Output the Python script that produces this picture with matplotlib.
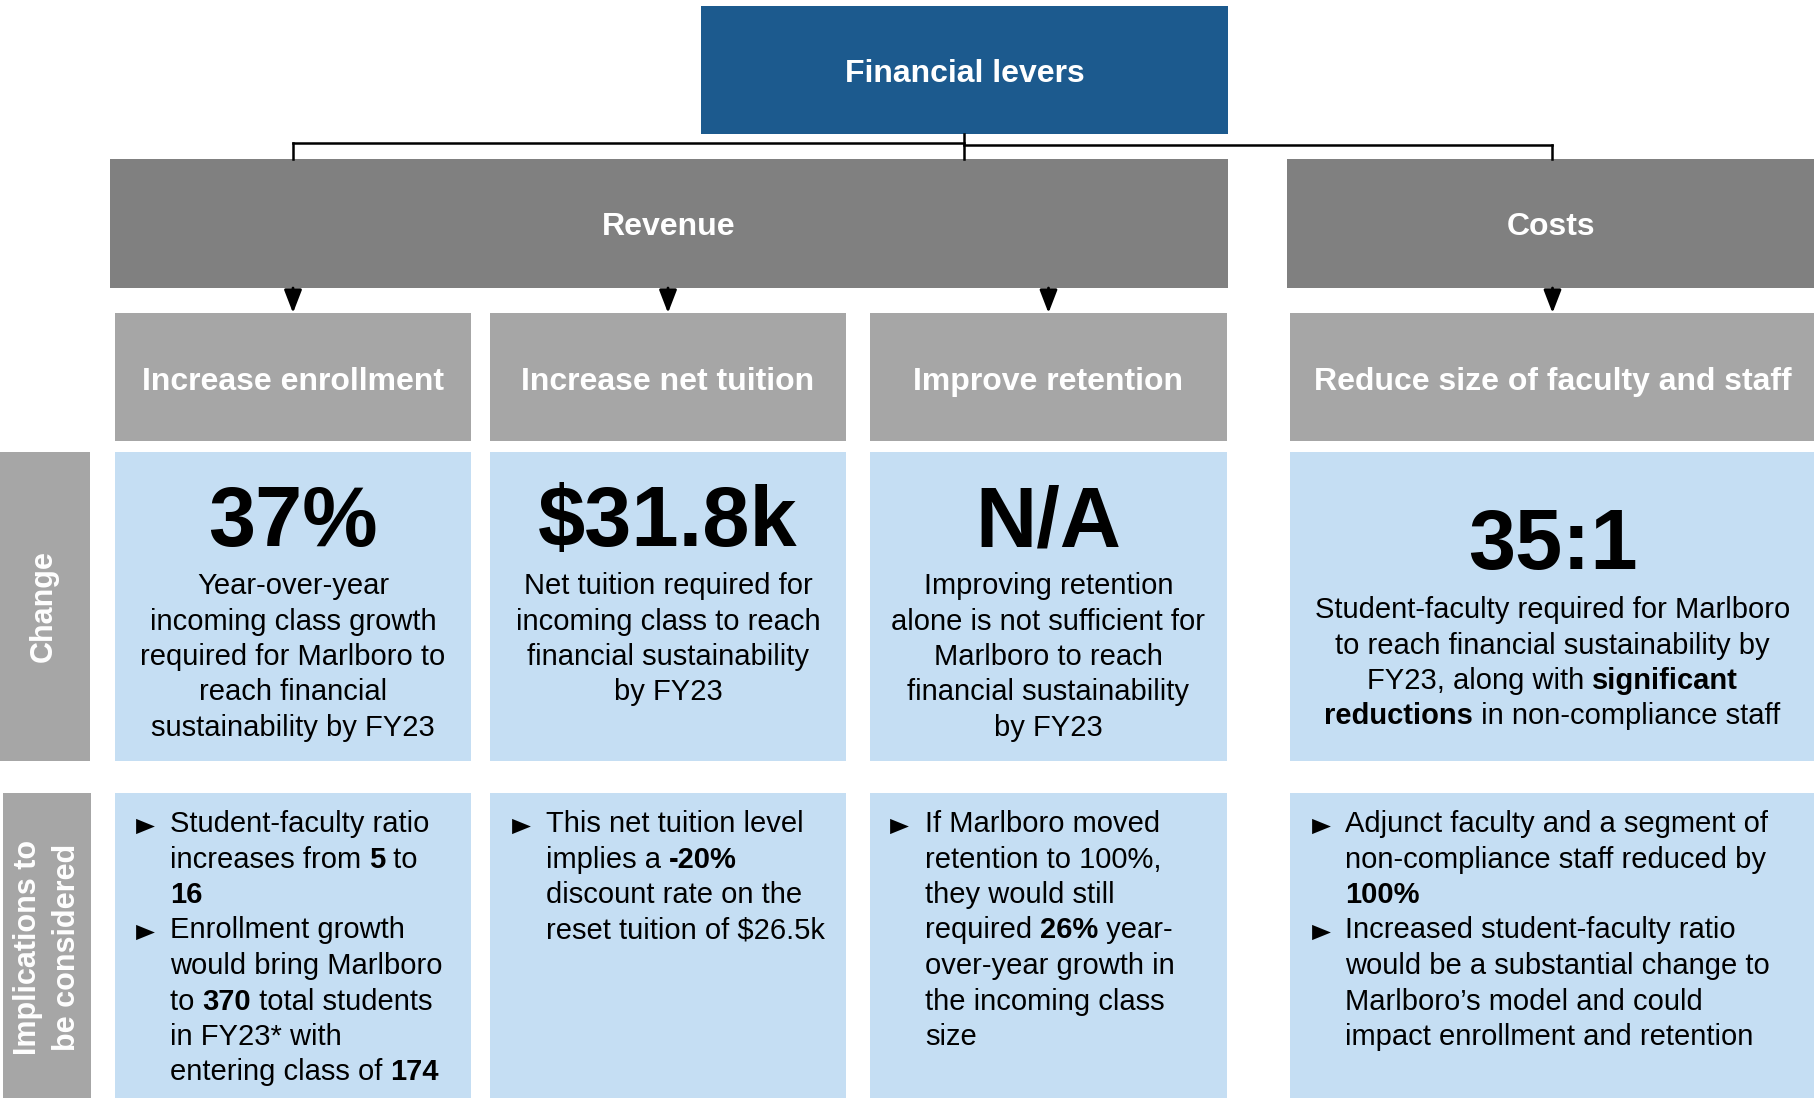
import matplotlib.pyplot as plt
from matplotlib.patches import Rectangle

plt.rcParams['font.family'] = ['Liberation Sans', 'DejaVu Sans']

# ---- content of the chart ----
top_title = 'Financial levers'
groups = ['Revenue', 'Costs']
levers = ['Increase enrollment', 'Increase net tuition', 'Improve retention',
          'Reduce size of faculty and staff']
headlines = ['37%', '$31.8k', 'N/A', '35:1']
row_labels = ['Change', 'Implications to', 'be considered']

# ** marks bold words
change_text = [
    ['Year-over-year', 'incoming class growth', 'required for Marlboro to',
     'reach financial', 'sustainability by FY23'],
    ['Net tuition required for', 'incoming class to reach',
     'financial sustainability', 'by FY23'],
    ['Improving retention', 'alone is not sufficient for', 'Marlboro to reach',
     'financial sustainability', 'by FY23'],
    ['Student-faculty required for Marlboro', 'to reach financial sustainability by',
     'FY23, along with **significant**', '**reductions** in non-compliance staff'],
]

implications = [
    [['Student-faculty ratio', 'increases from **5** to', '**16**'],
     ['Enrollment growth', 'would bring Marlboro', 'to **370** total students',
      'in FY23* with', 'entering class of **174**']],
    [['This net tuition level', 'implies a **-20%**', 'discount rate on the',
      'reset tuition of $26.5k']],
    [['If Marlboro moved', 'retention to 100%,', 'they would still',
      'required **26%** year-', 'over-year growth in', 'the incoming class', 'size']],
    [['Adjunct faculty and a segment of', 'non-compliance staff reduced by', '**100%**'],
     ['Increased student-faculty ratio', 'would be a substantial change to',
      'Marlboro\u2019s model and could', 'impact enrollment and retention']],
]

# ---- layout in pixels of the 1815x1098 canvas ----
W, H = 1815, 1098
BLUE = '#1C5A8E'
DARK = '#808080'
MID = '#A6A6A6'
LIGHT = '#C5DEF3'

col_x = [(115, 471), (490, 846), (870, 1227), (1290, 1815)]
group_x = [(110, 1228), (1287, 1815)]
title_x = (701, 1228)
title_y = (6, 134)
group_y = (159, 288)
lever_y = (313, 441)
change_y = (452, 761)
impl_y = (793, 1098)
label_x = (0, 90)

BODY = 21
PITCH = 35.5

fig = plt.figure(figsize=(W / 100, H / 100), dpi=100)
ax = fig.add_axes([0, 0, 1, 1])
ax.set_xlim(0, W)
ax.set_ylim(H, 0)
ax.axis('off')
renderer = fig.canvas.get_renderer()


def box(xr, yr, color):
    ax.add_patch(Rectangle((xr[0], yr[0]), xr[1] - xr[0], yr[1] - yr[0],
                           facecolor=color, edgecolor='none'))


def seg_width(s, bold, size):
    w = 'bold' if bold else 'normal'
    t1 = ax.text(0, 0, '|' + s + '|', fontsize=size, fontweight=w, parse_math=False)
    t2 = ax.text(0, 0, '||', fontsize=size, fontweight=w, parse_math=False)
    d = t1.get_window_extent(renderer).width - t2.get_window_extent(renderer).width
    t1.remove()
    t2.remove()
    return d


def rich_line(x, y, line, size=BODY, ha='left'):
    parts = line.split('**')
    segs = [(p, i % 2 == 1) for i, p in enumerate(parts) if p]
    widths = [seg_width(s, b, size) for s, b in segs]
    start = x - sum(widths) / 2 if ha == 'center' else x
    for (s, b), w in zip(segs, widths):
        ax.text(start, y, s, fontsize=size, fontweight='bold' if b else 'normal',
                ha='left', va='baseline', color='black', parse_math=False)
        start += w


def mid(r):
    return (r[0] + r[1]) / 2


# top box
box(title_x, title_y, BLUE)
ax.text(mid(title_x), 82, top_title, color='white', fontsize=23, fontweight='bold',
        ha='center', va='baseline')

# connectors from the top box
cx = mid(title_x)
g_centers = [mid(col_x[0]), 1552]
lk = dict(color='black', lw=1.8, solid_capstyle='projecting')
ax.plot([cx, cx], [title_y[1], group_y[0]], **lk)
ax.plot([g_centers[0], cx], [143, 143], **lk)
ax.plot([cx, g_centers[1]], [145, 145], **lk)
ax.plot([g_centers[0], g_centers[0]], [143, group_y[0]], **lk)
ax.plot([g_centers[1], g_centers[1]], [145, group_y[0]], **lk)

# group boxes
for gx in group_x:
    box(gx, group_y, DARK)
label_cx = [669, 1551]
for x, name in zip(label_cx, groups):
    ax.text(x, 235, name, color='white', fontsize=23, fontweight='bold',
            ha='center', va='baseline')

# lever boxes + arrows
for xr, name in zip(col_x, levers):
    c = mid(xr)
    box(xr, lever_y, MID)
    ax.text(c, 390, name, color='white', fontsize=23, fontweight='bold',
            ha='center', va='baseline')
    ax.annotate('', xy=(c, lever_y[0]), xytext=(c, group_y[1]),
                arrowprops=dict(arrowstyle='-|>,head_length=0.7,head_width=0.27',
                                color='black', lw=2, shrinkA=0, shrinkB=0,
                                mutation_scale=20))

# row labels
box(label_x, change_y, MID)
box((3, 91), impl_y, MID)
ax.text(44, 606, row_labels[0], rotation=90, color='white', fontsize=22,
        fontweight='bold', ha='center', va='center')
ax.text(28, 947, row_labels[1], rotation=90, color='white', fontsize=22,
        fontweight='bold', ha='center', va='center')
ax.text(67, 947, row_labels[2], rotation=90, color='white', fontsize=22,
        fontweight='bold', ha='center', va='center')

# change row
head_base = [546, 546, 546, 569]
text_base = [594, 594, 594, 618]
for i, xr in enumerate(col_x):
    c = mid(xr)
    box(xr, change_y, LIGHT)
    ax.text(c, head_base[i], headlines[i], fontsize=61, fontweight='bold',
            ha='center', va='baseline', parse_math=False)
    for j, line in enumerate(change_text[i]):
        rich_line(c, text_base[i] + j * PITCH, line, ha='center')

# implications row
bullet_x = [145, 521, 899, 1321]
text_x = [170, 546, 925, 1345]
tri = [(-8, -6.5), (8, 0), (-8, 6.5), (-8, -6.5)]
for i, xr in enumerate(col_x):
    box(xr, impl_y, LIGHT)
    k = 0
    for bullet in implications[i]:
        y0 = 832 + k * PITCH
        ax.plot(bullet_x[i], y0 - 6.5, marker=tri, markersize=13.5,
                color='black', markeredgewidth=0)
        for line in bullet:
            rich_line(text_x[i], 832 + k * PITCH, line)
            k += 1

fig.savefig('out.png', dpi=100, facecolor='white')
